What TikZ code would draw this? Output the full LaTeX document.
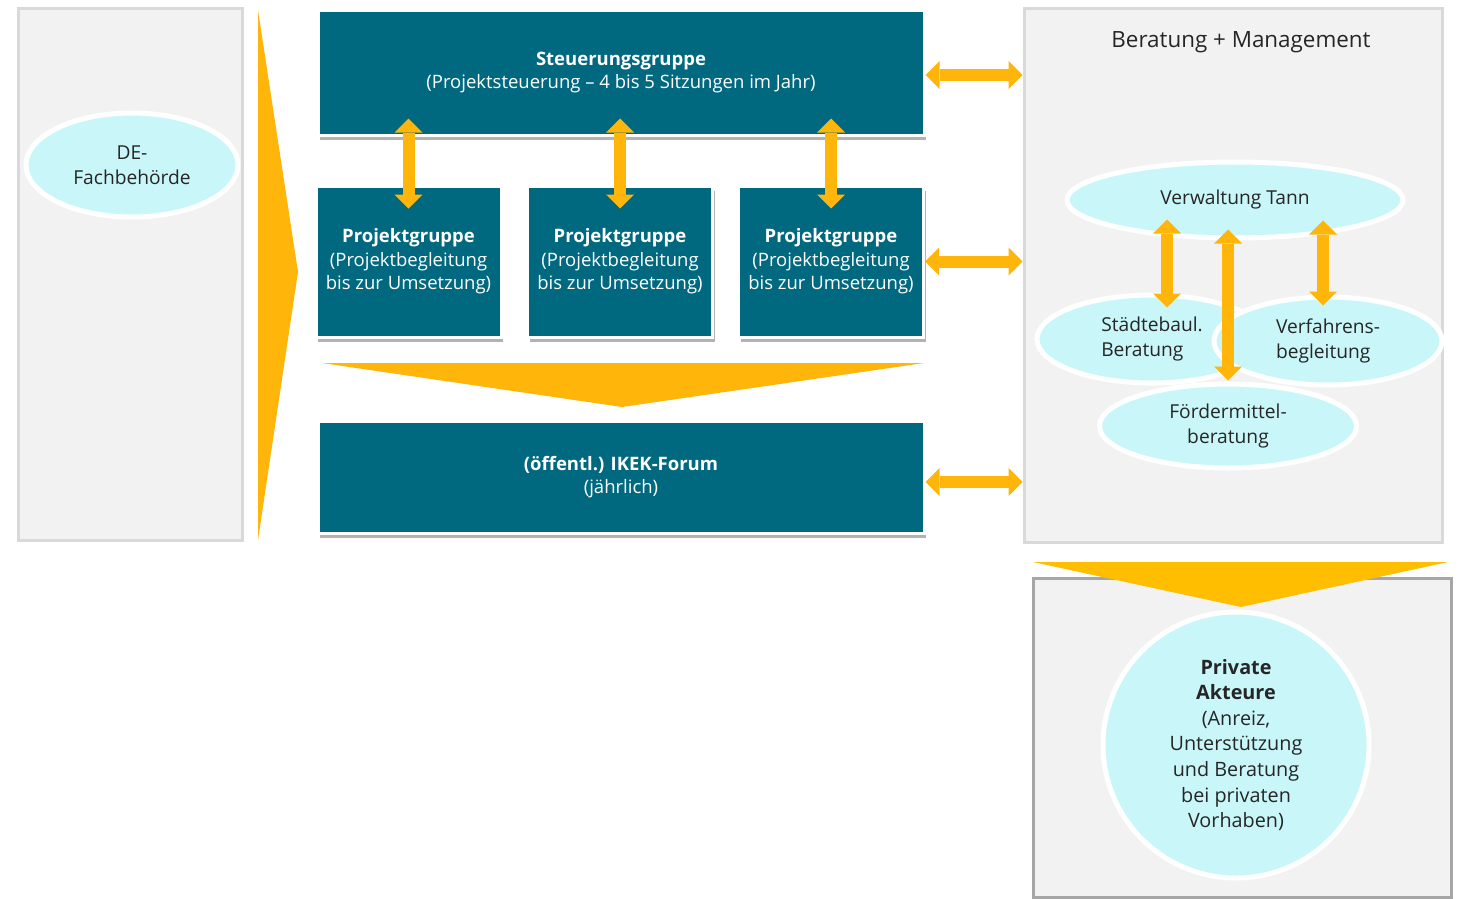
\documentclass[tikz,border=0pt]{standalone}
\usepackage{fontspec}
\setmainfont{Open Sans}
\usetikzlibrary{arrows.meta,shapes.geometric,shadows}

\definecolor{ikekteal}{HTML}{00687F}
\definecolor{ikekgold}{HTML}{FFB50A}
\definecolor{ikekyellow}{HTML}{FFBE00}
\definecolor{paneltone}{HTML}{F2F2F2}
\definecolor{panelline}{HTML}{D9D9D9}
\definecolor{bubblefill}{HTML}{C9F7F9}
\definecolor{inktone}{HTML}{262626}

\tikzset{
    tealbox/.style={rectangle, fill=ikekteal, draw=white, line width=3pt, text=white,
        align=center, inner sep=0pt,
        drop shadow={shadow xshift=2pt, shadow yshift=-5pt, opacity=0.3, fill=black},
        font=\fontsize{18.5}{23.5}\selectfont},
    panel/.style={rectangle, fill=paneltone, draw=panelline, line width=3pt, inner sep=0pt},
    bubble/.style={ellipse, fill=bubblefill, draw=white, line width=5pt, inner sep=0pt,
        text=inktone, font=\fontsize{19.2}{25}\selectfont},
    dblarrow/.style={draw=ikekgold, line width=12pt,
        {Triangle[width=28pt,length=14pt,line width=0pt]}-{Triangle[width=28pt,length=14pt,line width=0pt]}},
}

\begin{document}
\begin{tikzpicture}[x=1pt, y=-1pt]
    \useasboundingbox (0,0) rectangle (1458,898);

    % left column
    \node[panel, minimum width=224pt, minimum height=532pt] (fach) at (130,274) {};
    \node[bubble, minimum width=212pt, minimum height=104pt, align=center] (de) at (132,165) {DE-\\Fachbehörde};
    \fill[ikekgold] (258,10) -- (298,272) -- (258,540) -- cycle;

    % middle column
    \node[tealbox, minimum width=606pt, minimum height=125pt] (steuer) at (621,72.5)
        {\textbf{Steuerungsgruppe}\\(Projektsteuerung – 4 bis 5 Sitzungen im Jahr)};
    \node[tealbox, minimum width=185pt, minimum height=151pt] (pg1) at (408.5,261.5)
        {\textbf{Projektgruppe}\\(Projektbegleitung\\bis zur Umsetzung)};
    \node[tealbox, minimum width=185pt, minimum height=151pt] (pg2) at (620,261.5)
        {\textbf{Projektgruppe}\\(Projektbegleitung\\bis zur Umsetzung)};
    \node[tealbox, minimum width=185pt, minimum height=151pt] (pg3) at (831,261.5)
        {\textbf{Projektgruppe}\\(Projektbegleitung\\bis zur Umsetzung)};
    \fill[ikekgold] (322,363) -- (924,363) -- (622,407) -- cycle;
    \node[tealbox, minimum width=606pt, minimum height=112pt] (forum) at (621,477)
        {\textbf{(öffentl.) IKEK-Forum}\\(jährlich)};

    \draw[dblarrow] ([yshift=18pt]steuer.south -| pg1.north) -- ([yshift=-24pt]pg1.north);
    \draw[dblarrow] ([yshift=18pt]steuer.south -| pg2.north) -- ([yshift=-24pt]pg2.north);
    \draw[dblarrow] ([yshift=18pt]steuer.south -| pg3.north) -- ([yshift=-24pt]pg3.north);

    % right column
    \node[panel, minimum width=418pt, minimum height=534pt] (bm) at (1233,275) {};
    \node[text=inktone, font=\fontsize{22.4}{28}\selectfont] (bmtitle) at (1241,42) {Beratung + Management};
    \node[bubble, minimum width=336pt, minimum height=76pt] (vt) at (1235,200) {Verwaltung Tann};
    \node[bubble, minimum width=230pt, minimum height=88pt, align=left] (sb) at (1152,339) {Städtebaul.\\Beratung};
    \node[bubble, minimum width=228pt, minimum height=88pt, align=left] (vf) at (1328,341) {Verfahrens-\\begleitung};
    \node[bubble, minimum width=257pt, minimum height=84pt, align=center] (fm) at (1228,426) {Fördermittel-\\beratung};

    \draw[dblarrow] ([xshift=-68pt, yshift=21pt]vt.south) -- ([xshift=-68pt, yshift=-15pt]vt.south |- sb.north);
    \draw[dblarrow] ([yshift=11pt]vt.south -| fm.north) -- ([yshift=1pt]fm.north);
    \draw[dblarrow] ([xshift=88pt, yshift=20pt]vt.south) -- ([xshift=88pt, yshift=-11pt]vt.south |- vf.north);

    \draw[dblarrow] (steuer.east |- 0,75) -- (bm.west |- 0,75);
    \draw[dblarrow] (pg3.east) -- (bm.west |- pg3.east);
    \draw[dblarrow] (forum.east |- 0,482) -- (bm.west |- 0,482);

    % bottom right
    \node[panel, draw=black!35, minimum width=418pt, minimum height=319pt] (priv) at (1242,737.5) {};
    \fill[ikekyellow] (1033,562) -- (1448,562) -- (1241,607) -- cycle;
    \node[circle, fill=bubblefill, draw=white, line width=5pt, inner sep=0pt, minimum size=266pt,
        text=inktone, align=center, font=\fontsize{19.8}{25.6}\selectfont] (akteure) at (1236,745)
        {\textbf{Private}\\\textbf{Akteure}\\(Anreiz,\\Unterstützung\\und Beratung\\bei privaten\\Vorhaben)};

\end{tikzpicture}
\end{document}
